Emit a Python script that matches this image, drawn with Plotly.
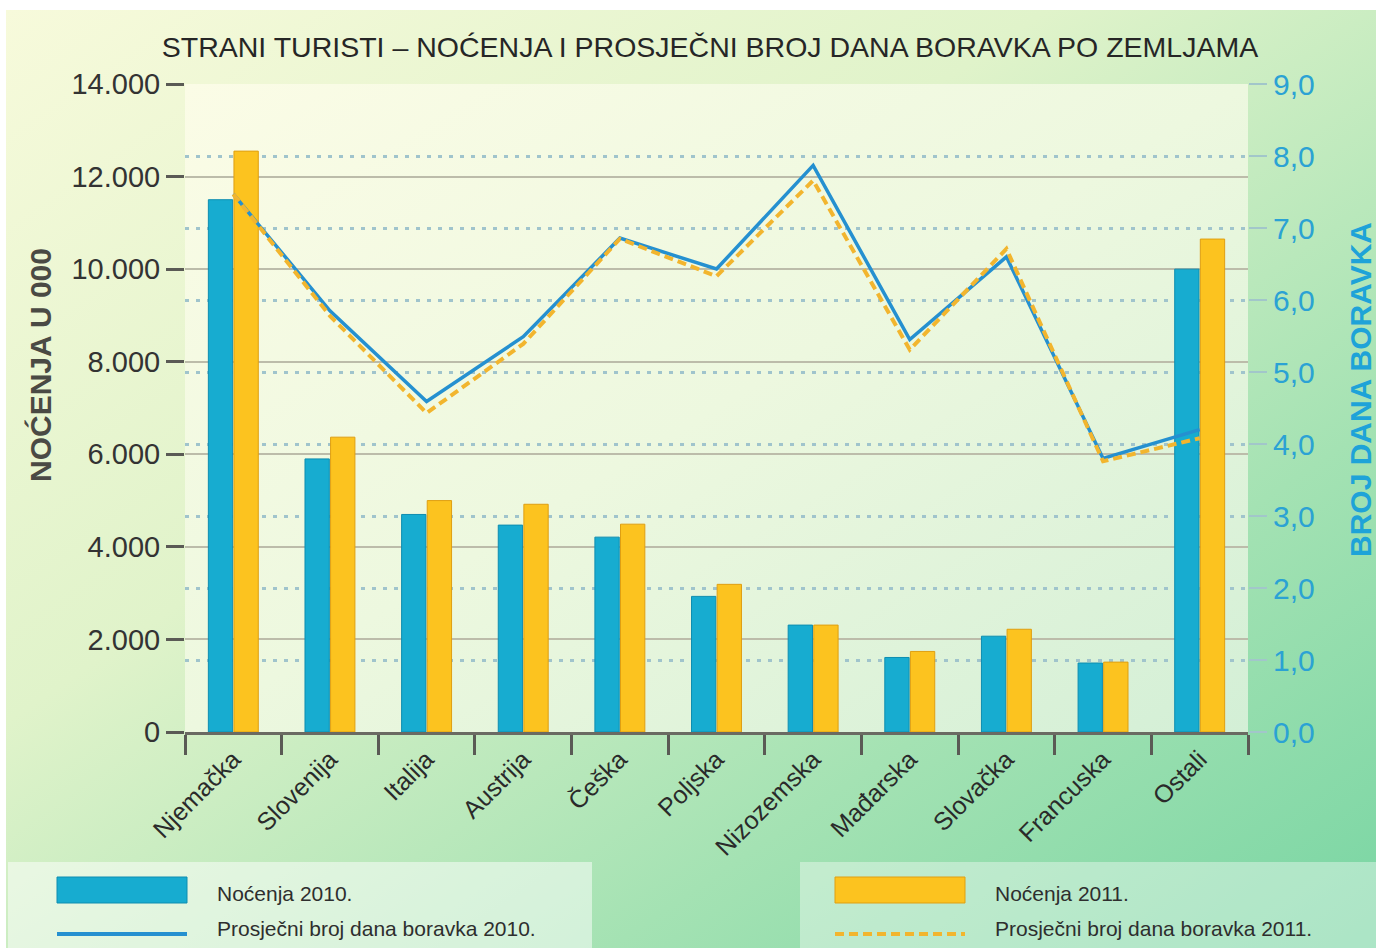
import base64
import plotly.graph_objects as go

# ---------------- data ----------------
categories = ["Njemačka", "Slovenija", "Italija", "Austrija", "Češka", "Poljska",
              "Nizozemska", "Mađarska", "Slovačka", "Francuska", "Ostali"]
nocenja_2010 = [11500, 5900, 4700, 4470, 4210, 2930, 2310, 1610, 2070, 1490, 10000]
nocenja_2011 = [12550, 6370, 5000, 4920, 4490, 3190, 2310, 1740, 2220, 1510, 10650]
dani_2010 = [7.47, 5.85, 4.59, 5.49, 6.86, 6.43, 7.87, 5.45, 6.60, 3.80, 4.20]
dani_2011 = [7.47, 5.78, 4.43, 5.39, 6.85, 6.33, 7.66, 5.31, 6.71, 3.76, 4.08]
left_ticks = [0, 2000, 4000, 6000, 8000, 10000, 12000, 14000]
right_ticks = [0, 1, 2, 3, 4, 5, 6, 7, 8, 9]

title_text = "STRANI TURISTI – NOĆENJA I PROSJEČNI BROJ DANA BORAVKA PO ZEMLJAMA"
left_title = "NOĆENJA U 000"
right_title = "BROJ DANA BORAVKA"
legend_labels = ["Noćenja 2010.", "Prosječni broj dana boravka 2010.",
                 "Noćenja 2011.", "Prosječni broj dana boravka 2011."]

# ---------------- layout geometry ----------------
W, H = 1376, 948
L, T = 185, 84            # plot area top-left
R = W - 1248
B = H - 732
PW, PH = W - L - R, H - T - B
FONT = "Liberation Sans, Arial, Helvetica, sans-serif"

TEAL = "#17acd0"
TEAL_EDGE = "#0e8db0"
YELLOW = "#fcc31f"
YELLOW_EDGE = "#df9f12"
BLUE_LINE = "#2590d0"
YELLOW_LINE = "#f2b52e"
RIGHT_COL = "#2ba2d4"


def px(x):
    """page x pixel -> paper coordinate"""
    return (x - L) / PW


def py(y):
    """page y pixel -> paper coordinate"""
    return (H - B - y) / PH


def svg_uri(svg):
    return "data:image/svg+xml;base64," + base64.b64encode(svg.encode("utf-8")).decode("ascii")


bg_svg = f'''<svg xmlns="http://www.w3.org/2000/svg" width="{W}" height="{H}" viewBox="0 0 {W} {H}" preserveAspectRatio="none">
<defs><linearGradient id="g" x1="0" y1="0" x2="1" y2="1">
<stop offset="0" stop-color="#f7fadb"/>
<stop offset="0.38" stop-color="#e0f3ca"/>
<stop offset="0.72" stop-color="#a4e2b3"/>
<stop offset="1" stop-color="#78d5a3"/>
</linearGradient></defs>
<rect width="{W}" height="{H}" fill="#ffffff"/>
<rect x="6" y="10" width="{W - 6}" height="{H - 10}" fill="url(#g)"/>
</svg>'''

plot_svg = f'''<svg xmlns="http://www.w3.org/2000/svg" width="{PW}" height="{PH}" viewBox="0 0 {PW} {PH}" preserveAspectRatio="none">
<defs><linearGradient id="p" x1="0" y1="0" x2="1" y2="1">
<stop offset="0" stop-color="#fbfce6"/>
<stop offset="0.5" stop-color="#edf8df"/>
<stop offset="1" stop-color="#d3efd6"/>
</linearGradient></defs>
<rect width="{PW}" height="{PH}" fill="url(#p)"/>
</svg>'''

fig = go.Figure()

fig.add_trace(go.Bar(
    x=categories, y=nocenja_2010, name=legend_labels[0],
    marker=dict(color=TEAL, line=dict(color=TEAL_EDGE, width=1)),
    yaxis="y", showlegend=False))
fig.add_trace(go.Bar(
    x=categories, y=nocenja_2011, name=legend_labels[2],
    marker=dict(color=YELLOW, line=dict(color=YELLOW_EDGE, width=1)),
    yaxis="y", showlegend=False))
fig.add_trace(go.Scatter(
    x=categories, y=dani_2010, name=legend_labels[1], mode="lines",
    line=dict(color=BLUE_LINE, width=3.5), yaxis="y2", showlegend=False))
fig.add_trace(go.Scatter(
    x=categories, y=dani_2011, name=legend_labels[3], mode="lines",
    line=dict(color=YELLOW_LINE, width=4, dash="9px,5px"), yaxis="y2", showlegend=False))

shapes = []
annotations = []

# legend boxes
shapes.append(dict(type="rect", xref="paper", yref="paper",
                   x0=px(8), x1=px(592), y0=py(948), y1=py(862),
                   fillcolor="rgba(255,255,255,0.5)", line=dict(width=0), layer="above"))
shapes.append(dict(type="rect", xref="paper", yref="paper",
                   x0=px(800), x1=px(1376), y0=py(948), y1=py(862),
                   fillcolor="rgba(255,255,255,0.38)", line=dict(width=0), layer="above"))
# swatches
shapes.append(dict(type="rect", xref="paper", yref="paper",
                   x0=px(57), x1=px(187), y0=py(903), y1=py(877),
                   fillcolor=TEAL, line=dict(color=TEAL_EDGE, width=1), layer="above"))
shapes.append(dict(type="line", xref="paper", yref="paper",
                   x0=px(57), x1=px(187), y0=py(934), y1=py(934),
                   line=dict(color=BLUE_LINE, width=4), layer="above"))
shapes.append(dict(type="rect", xref="paper", yref="paper",
                   x0=px(835), x1=px(965), y0=py(903), y1=py(877),
                   fillcolor=YELLOW, line=dict(color=YELLOW_EDGE, width=1), layer="above"))
shapes.append(dict(type="line", xref="paper", yref="paper",
                   x0=px(835), x1=px(965), y0=py(934), y1=py(934),
                   line=dict(color=YELLOW_LINE, width=4, dash="9px,5px"), layer="above"))

leg_font = dict(family=FONT, size=21, color="#2e2e2e")
for text, xx, yy in [(legend_labels[0], 215, 893), (legend_labels[1], 215, 929),
                     (legend_labels[2], 993, 893), (legend_labels[3], 993, 929)]:
    annotations.append(dict(text=text, xref="paper", yref="paper", x=px(xx), y=py(yy),
                            xanchor="left", yanchor="middle", showarrow=False, font=leg_font))

# axis titles
annotations.append(dict(text="<b>" + left_title + "</b>", xref="paper", yref="paper",
                        x=px(40), y=py(365), textangle=-90, showarrow=False,
                        xanchor="center", yanchor="middle",
                        font=dict(family=FONT, size=30, color="#4a4a44")))
annotations.append(dict(text="<b>" + right_title + "</b>", xref="paper", yref="paper",
                        x=px(1360), y=py(390), textangle=-90, showarrow=False,
                        xanchor="center", yanchor="middle",
                        font=dict(family=FONT, size=30, color="#1ea3d8")))

fig.update_layout(
    width=W, height=H,
    margin=dict(l=L, r=R, t=T, b=B, autoexpand=False),
    paper_bgcolor="#ffffff",
    plot_bgcolor="rgba(0,0,0,0)",
    separators=",.",
    barmode="group", bargap=0.47, bargroupgap=0.05,
    showlegend=False,
    title=dict(text=title_text, xref="container", yref="container",
               x=710 / W, y=1 - 47 / H, xanchor="center", yanchor="middle",
               font=dict(family=FONT, size=28.5, color="#262626")),
    font=dict(family=FONT),
    xaxis=dict(
        type="category", categoryorder="array", categoryarray=categories,
        tickson="boundaries", ticks="outside", ticklen=20, tickwidth=3, tickcolor="#5a5a55",
        showline=True, linecolor="#6a6a62", linewidth=2.5,
        showgrid=False, tickangle=-45,
        tickfont=dict(family=FONT, size=25, color="#2a2a2a"),
        range=[-0.5, len(categories) - 0.5],
    ),
    yaxis=dict(
        range=[0, 14000], tickvals=left_ticks, tickformat=",d",
        ticks="outside", ticklen=18, tickwidth=2.5, tickcolor="#5a5a55",
        showgrid=True, gridcolor="#bcbcaa", gridwidth=2,
        zeroline=False, showline=False,
        tickfont=dict(family=FONT, size=29, color="#333333"),
    ),
    yaxis2=dict(
        range=[0, 9], tickvals=right_ticks, tickformat=".1f",
        overlaying="y", side="right",
        ticks="outside", ticklen=18, tickwidth=2, tickcolor="#a2c6ca",
        showgrid=True, gridcolor="#a0c4cc", gridwidth=2.5, griddash="4px,7px",
        zeroline=False, showline=False,
        tickfont=dict(family=FONT, size=30, color=RIGHT_COL),
    ),
    images=[
        dict(source=svg_uri(bg_svg), xref="paper", yref="paper",
             x=-L / PW, y=1 + T / PH, sizex=W / PW, sizey=H / PH,
             xanchor="left", yanchor="top", sizing="stretch", layer="below"),
        dict(source=svg_uri(plot_svg), xref="paper", yref="paper",
             x=0, y=1, sizex=1, sizey=1,
             xanchor="left", yanchor="top", sizing="stretch", layer="below"),
    ],
    shapes=shapes,
    annotations=annotations,
)

fig.write_html("out.html",
               config={"displayModeBar": False},
               post_script="document.body.style.margin='0';document.body.style.overflow='hidden';")
